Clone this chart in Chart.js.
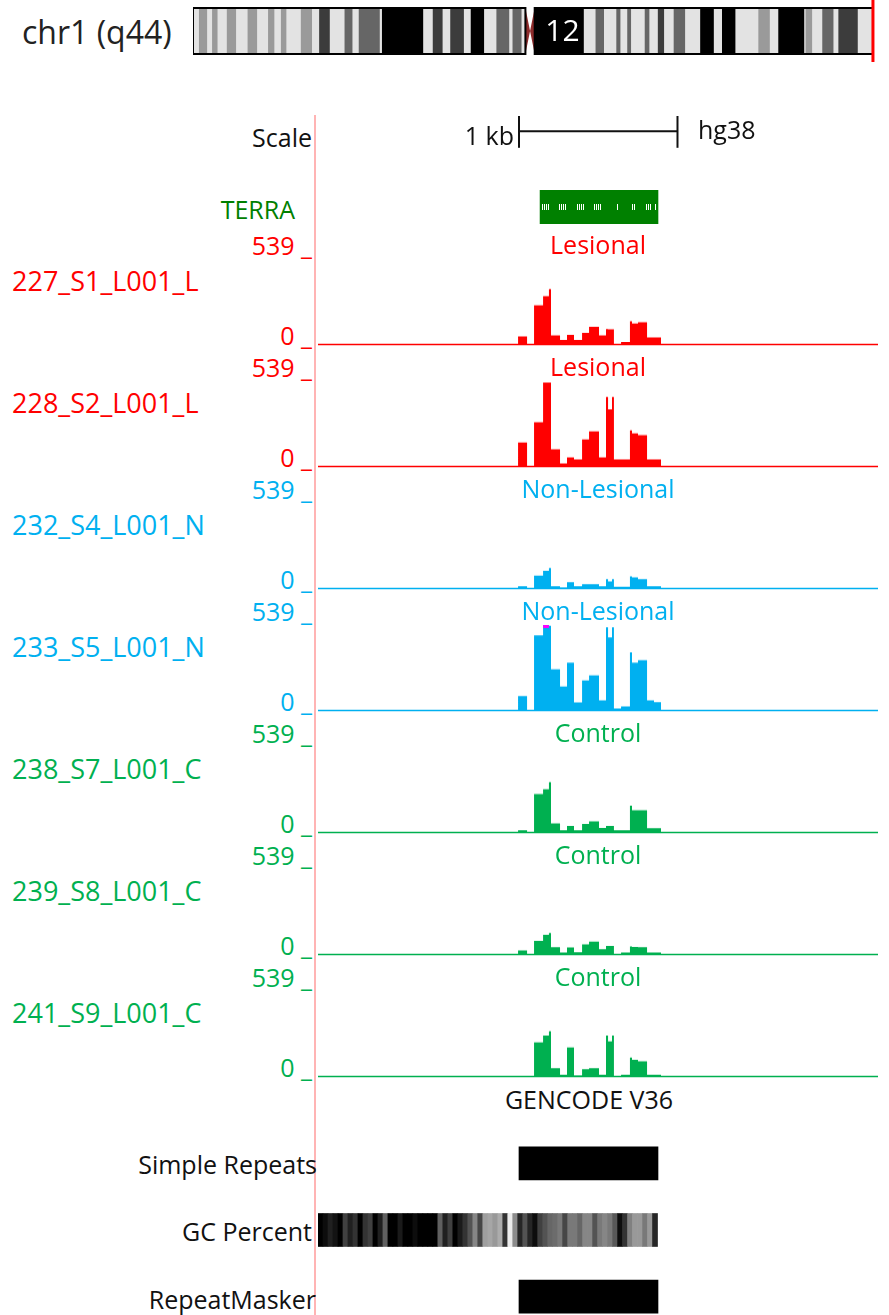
<!DOCTYPE html>
<html>
<head>
<meta charset="utf-8">
<script src="https://cdn.jsdelivr.net/npm/chart.js@4.4.1/dist/chart.umd.min.js"></script>
<style>
  html, body { margin: 0; padding: 0; background: #fff; }
  #page { position: relative; width: 889px; height: 1315px; overflow: hidden; font-family: 'Open Sans', sans-serif; }
  .box { position: absolute; }
  .lbl { position: absolute; white-space: nowrap; line-height: 1; font-size: 25px; }
  #cursor { position: absolute; left: 314px; top: 115px; width: 2px; height: 1200px; background: #ffb4b4; }
</style>
</head>
<body>
<div id="page"><div id="cursor"></div></div>
<script>
// ---- data ----
const WINDOW_BP = 3533;          // bp shown across the data area
const Y_MAX = 539;               // view limit of every coverage track

// coverage bins (bp offsets from window start), one more edge than values
const binEdges = [1262, 1319, 1363, 1420, 1457, 1470, 1527, 1571, 1615, 1666, 1710, 1773,
                  1817, 1830, 1855, 1867, 1912, 1968, 1981, 2019, 2076, 2120, 2164];

const sampleNames  = ['227_S1_L001_L', '228_S2_L001_L', '232_S4_L001_N', '233_S5_L001_N',
                      '238_S7_L001_C', '239_S8_L001_C', '241_S9_L001_C'];
const sampleGroups = ['Lesional', 'Lesional', 'Non-Lesional', 'Non-Lesional',
                      'Control', 'Control', 'Control'];

const cov227 = [51, 0, 247, 304, 349, 57, 29, 60, 29, 73, 111, 57, 98, 95, 95, 0, 16, 146, 133, 140, 44, 44];
const cov228 = [152, 0, 279, 530, 530, 108, 19, 57, 44, 171, 222, 57, 438, 361, 438, 44, 44, 228, 209, 197, 44, 44];
const cov232 = [15, 0, 81, 112, 129, 15, 6, 40, 15, 27, 27, 15, 59, 44, 59, 11, 11, 76, 70, 59, 15, 15];
const cov233 = [91, 0, 474, 560, 535, 260, 152, 302, 51, 190, 222, 63, 524, 461, 524, 13, 25, 366, 302, 317, 63, 53];
const cov238 = [15, 0, 243, 273, 317, 57, 15, 42, 15, 54, 70, 29, 42, 42, 42, 15, 15, 169, 141, 141, 27, 27];
const cov239 = [25, 0, 86, 124, 136, 46, 13, 44, 15, 63, 82, 34, 55, 55, 55, 3, 13, 51, 48, 46, 13, 13];
const cov241 = [0, 0, 216, 258, 285, 53, 11, 184, 6, 46, 53, 11, 258, 222, 258, 0, 11, 120, 106, 95, 11, 11];
const coverage = [cov227, cov228, cov232, cov233, cov238, cov239, cov241];

const scaleBar = [1268, 2268];   // 1 kb
const terraGene = [1401, 2145];
const terraMarks = [1413, 1426, 1439, 1451, 1520, 1533, 1546, 1558, 1634, 1647, 1659, 1672,
                    1741, 1754, 1766, 1779, 1886, 1981, 1994, 2069, 2082, 2095, 2126];
const simpleRepeats = [[1268, 2145]];
const repeatMasker  = [[1268, 2145]];
const GC_WINDOW = 31.5;
const gcPercent = [72, 68, 65, 67, 72, 60, 65, 62, 72, 62, 60, 72, 65, 55, 72, 72, 66, 72, 72, 68,
                   70, 72, 72, 72, 55, 65, 60, 72, 66, 62, 57, 49, 59, 45, 44, 46, 43, 62, 33, 48,
                   64, 57, 64, 68, 60, 57, 54, 53, 51, 59, 51, 51, 54, 49, 49, 57, 51, 49, 51, 56,
                   68, 62, 50, 46, 46, 51, 46, 64];
const lowerTracks = ['Simple Repeats', 'GC Percent', 'RepeatMasker'];

// chr1 cytobands (Mb)
const CHR1_LEN = 248.956;
const viewPos = 248.94;
const bandNames = ['p36.33','p36.32','p36.31','p36.23','p36.22','p36.21','p36.13','p36.12','p36.11','p35.3',
  'p35.2','p35.1','p34.3','p34.2','p34.1','p33','p32.3','p32.2','p32.1','p31.3','p31.2','p31.1','p22.3',
  'p22.2','p22.1','p21.3','p21.2','p21.1','p13.3','p13.2','p13.1','p12','p11.2','p11.1','q11','q12',
  'q21.1','q21.2','q21.3','q22','q23.1','q23.2','q23.3','q24.1','q24.2','q24.3','q25.1','q25.2','q25.3',
  'q31.1','q31.2','q31.3','q32.1','q32.2','q32.3','q41','q42.11','q42.12','q42.13','q42.2','q42.3','q43','q44'];
const bandEdges = [0, 2.3, 5.3, 7.1, 9.1, 12.5, 15.9, 20.1, 23.6, 27.6, 29.9, 32.3, 34.3, 39.6, 43.7, 46.3,
  50.2, 55.6, 58.5, 60.8, 68.5, 69.3, 84.4, 87.9, 91.5, 94.3, 99.3, 101.8, 106.7, 111.2, 115.9, 117.1,
  120.4, 121.7, 123.4, 125.1, 143.2, 147.5, 150.6, 155.1, 156.6, 159.1, 160.5, 165.5, 167.2, 170.3,
  172.6, 176.1, 180.3, 185.8, 190.8, 193.8, 198.7, 207.1, 211.3, 214.4, 223.9, 224.4, 226.8, 230.5,
  234.6, 236.4, 243.5, 248.956];
const bandStains = ['gneg','gpos25','gneg','gpos25','gneg','gpos25','gneg','gpos25','gneg','gpos25',
  'gneg','gpos25','gneg','gpos25','gneg','gpos75','gneg','gpos50','gneg','gpos50','gneg','gpos100','gneg',
  'gpos75','gneg','gpos75','gneg','gpos100','gneg','gpos50','gneg','gpos50','gneg','acen','acen','gvar',
  'gneg','gpos50','gneg','gpos50','gneg','gpos50','gneg','gpos50','gneg','gpos75','gneg','gpos50','gneg',
  'gpos100','gneg','gpos100','gneg','gpos25','gneg','gpos100','gneg','gpos25','gneg','gpos50','gneg','gpos75','gneg'];

// ---- styles ----
const groupColors = { 'Lesional': '#ff0000', 'Non-Lesional': '#00b0f0', 'Control': '#00b050' };
const stainColors = { gneg: '#e3e3e3', gpos25: '#9a9a9a', gpos50: '#666666', gpos75: '#3c3c3c',
                      gpos100: '#000000', gvar: '#000000' };
const PX_LEFT = 318, PX_WIDTH = 560;
const FIRST_BASELINE = 343.5, TRACK_STEP = 122, TRACK_H = 84.5;

const page = document.getElementById('page');

function addCanvas(x, y, w, h) {
  const d = document.createElement('div');
  d.className = 'box';
  Object.assign(d.style, { left: x + 'px', top: y + 'px', width: w + 'px', height: h + 'px' });
  const c = document.createElement('canvas');
  d.appendChild(c);
  page.appendChild(d);
  return c;
}

function addText(text, x, y, align, color, size) {
  const d = document.createElement('div');
  d.className = 'lbl';
  d.textContent = text;
  d.style.color = color || '#111';
  if (size) d.style.fontSize = size + 'px';
  d.style.top = y + 'px';
  if (align === 'right') {
    d.style.right = (889 - x) + 'px';
    d.style.transform = 'translateY(-53%)';
  } else if (align === 'center') {
    d.style.left = x + 'px';
    d.style.transform = 'translate(-50%, -53%)';
  } else {
    d.style.left = x + 'px';
    d.style.transform = 'translateY(-53%)';
  }
  page.appendChild(d);
}

const baseOptions = (xMin, xMax, padding) => ({
  responsive: true,
  maintainAspectRatio: false,
  animation: false,
  events: [],
  layout: { padding: padding || 0, autoPadding: false },
  plugins: { legend: { display: false }, tooltip: { enabled: false } },
  scales: {
    x: { type: 'linear', display: false, min: xMin, max: xMax },
    y: { type: 'linear', display: false, min: 0, max: 1 }
  }
});

// ---- ideogram ----
const bands = bandNames.map((n, i) => ({ name: n, s: bandEdges[i], e: bandEdges[i + 1], stain: bandStains[i] }));
const solidBands = bands.filter(b => b.stain !== 'acen');
const acenBands = bands.filter(b => b.stain === 'acen');

const ideoPlugin = {
  id: 'ideo',
  afterDatasetsDraw(chart) {
    const { ctx, chartArea: { top, bottom }, scales: { x } } = chart;
    const mid = (top + bottom) / 2;
    const l = x.getPixelForValue(0), r = x.getPixelForValue(CHR1_LEN);
    const pEnd = x.getPixelForValue(acenBands[0].s);
    const cen = x.getPixelForValue(acenBands[0].e);
    const qStart = x.getPixelForValue(acenBands[acenBands.length - 1].e);
    ctx.save();
    ctx.fillStyle = '#8e2c2c';
    ctx.beginPath();
    ctx.moveTo(pEnd, top); ctx.lineTo(cen, mid); ctx.lineTo(pEnd, bottom); ctx.closePath();
    ctx.moveTo(qStart, top); ctx.lineTo(cen, mid); ctx.lineTo(qStart, bottom); ctx.closePath();
    ctx.fill();
    ctx.strokeStyle = '#000';
    ctx.lineWidth = 2;
    ctx.strokeRect(l, top, pEnd - l, bottom - top);
    ctx.strokeRect(qStart, top, r - qStart, bottom - top);
    // band names that fit
    ctx.font = '30px "Open Sans"';
    ctx.textAlign = 'center';
    ctx.textBaseline = 'middle';
    solidBands.forEach(b => {
      const x0 = x.getPixelForValue(b.s), x1 = x.getPixelForValue(b.e);
      if (x1 - x0 > 45) {
        ctx.fillStyle = (b.stain === 'gneg' || b.stain === 'gpos25') ? '#000' : '#fff';
        ctx.fillText(b.name.slice(1), (x0 + x1) / 2 + 3, mid + 1);
      }
    });
    ctx.restore();
  },
  afterDraw(chart) {
    const { ctx, scales: { x } } = chart;
    ctx.save();
    ctx.fillStyle = '#ff0000';
    ctx.fillRect(x.getPixelForValue(viewPos) - 1.5, 0, 3, 62);
    ctx.restore();
  }
};

const ideoOpts = baseOptions(0, CHR1_LEN, { top: 8, bottom: 10, right: 3 });
ideoOpts.indexAxis = 'y';
ideoOpts.scales.y = { type: 'category', display: false };
new Chart(addCanvas(193, 0, 683, 64), {
  type: 'bar',
  data: {
    labels: ['chr1'],
    datasets: [{
      data: solidBands.map(b => ({ y: 'chr1', x: [b.s, b.e] })),
      backgroundColor: solidBands.map(b => stainColors[b.stain]),
      borderWidth: 0, barPercentage: 1, categoryPercentage: 1, grouped: false
    }]
  },
  options: ideoOpts,
  plugins: [ideoPlugin]
});
addText('chr1 (q44)', 22, 33, 'left', '#222', 32);

// ---- scale bar ----
new Chart(addCanvas(PX_LEFT, 116, PX_WIDTH, 34), {
  type: 'line',
  data: {
    datasets: [{
      data: scaleBar.map(v => ({ x: v, y: 0.55 })),
      borderColor: '#111', borderWidth: 2,
      pointStyle: 'line', pointRotation: 90, pointRadius: 16.5,
      pointBorderColor: '#111', pointBorderWidth: 2, clip: false
    }]
  },
  options: baseOptions(0, WINDOW_BP)
});
addText('Scale', 312, 138, 'right');
addText('1 kb', 514, 136, 'right');
addText('hg38', 698, 130, 'left');

// ---- TERRA ----
const marksPlugin = {
  id: 'terraMarks',
  afterDatasetsDraw(chart) {
    const { ctx, chartArea: { top, bottom }, scales: { x } } = chart;
    const mid = (top + bottom) / 2;
    ctx.save();
    ctx.strokeStyle = '#fff';
    ctx.lineWidth = 1;
    terraMarks.forEach(v => {
      const px = Math.round(x.getPixelForValue(v)) + 0.5;
      ctx.beginPath(); ctx.moveTo(px, mid - 3); ctx.lineTo(px, mid + 3); ctx.stroke();
    });
    ctx.restore();
  }
};
const terraOpts = baseOptions(0, WINDOW_BP);
terraOpts.indexAxis = 'y';
terraOpts.scales.y = { type: 'category', display: false };
new Chart(addCanvas(PX_LEFT, 190, PX_WIDTH, 34), {
  type: 'bar',
  data: {
    labels: ['TERRA'],
    datasets: [{ data: [{ y: 'TERRA', x: terraGene }], backgroundColor: '#008000',
                 borderWidth: 0, barPercentage: 1, categoryPercentage: 1 }]
  },
  options: terraOpts,
  plugins: [marksPlugin]
});
addText('TERRA', 295, 210, 'right', '#008000');

// ---- coverage tracks ----
coverage.forEach((vals, t) => {
  const color = groupColors[sampleGroups[t]];
  const base = FIRST_BASELINE + t * TRACK_STEP;
  const steps = vals.map((v, i) => ({ x: binEdges[i], y: v }));
  steps.push({ x: binEdges[binEdges.length - 1], y: vals[vals.length - 1] });
  const over = [];
  vals.forEach((v, i) => {
    if (v > Y_MAX) over.push({ x: binEdges[i], y: Y_MAX }, { x: binEdges[i + 1], y: Y_MAX }, { x: binEdges[i + 1], y: null });
  });
  const opts = baseOptions(0, WINDOW_BP, { bottom: 2 });
  opts.scales.y.max = Y_MAX;
  new Chart(addCanvas(PX_LEFT, base - TRACK_H, PX_WIDTH, TRACK_H + 2), {
    type: 'line',
    data: {
      datasets: [
        { data: over, stepped: true, fill: { value: Y_MAX * 0.965 }, backgroundColor: '#ff00ff',
          borderWidth: 0, pointRadius: 0 },
        { data: [{ x: 0, y: 0 }, { x: WINDOW_BP, y: 0 }], borderColor: color, borderWidth: 1.5,
          pointRadius: 0, fill: false, clip: false },
        { data: steps, stepped: true, fill: 'origin', backgroundColor: color, borderWidth: 0, pointRadius: 0 }
      ]
    },
    options: opts
  });
  addText(Y_MAX + ' _', 312, base - 98, 'right', color);
  addText('0 _', 312, base - 8, 'right', color);
  addText(sampleNames[t], 12, base - 63, 'left', color, 27);
  addText(sampleGroups[t], 598, base - 99, 'center', color);
});

addText('GENCODE V36', 589, 1100, 'center');

// ---- repeats / GC ----
const lowerData = [], lowerColors = [];
simpleRepeats.forEach(r => { lowerData.push({ y: lowerTracks[0], x: r }); lowerColors.push('#000'); });
gcPercent.forEach((v, i) => {
  const g = Math.max(0, Math.min(255, Math.round(255 * (70 - v) / 40)));
  lowerData.push({ y: lowerTracks[1], x: [i * GC_WINDOW, (i + 1) * GC_WINDOW] });
  lowerColors.push(`rgb(${g},${g},${g})`);
});
repeatMasker.forEach(r => { lowerData.push({ y: lowerTracks[2], x: r }); lowerColors.push('#000'); });

const lowerOpts = baseOptions(0, WINDOW_BP);
lowerOpts.indexAxis = 'y';
lowerOpts.scales.y = { type: 'category', display: false };
new Chart(addCanvas(PX_LEFT, 1130, PX_WIDTH, 200), {
  type: 'bar',
  data: {
    labels: lowerTracks,
    datasets: [{ data: lowerData, backgroundColor: lowerColors, borderWidth: 0,
                 barThickness: 33, grouped: false }]
  },
  options: lowerOpts
});
addText(lowerTracks[0], 317, 1165, 'right');
addText(lowerTracks[1], 312, 1232, 'right');
addText(lowerTracks[2], 316, 1300, 'right');
</script>
</body>
</html>
